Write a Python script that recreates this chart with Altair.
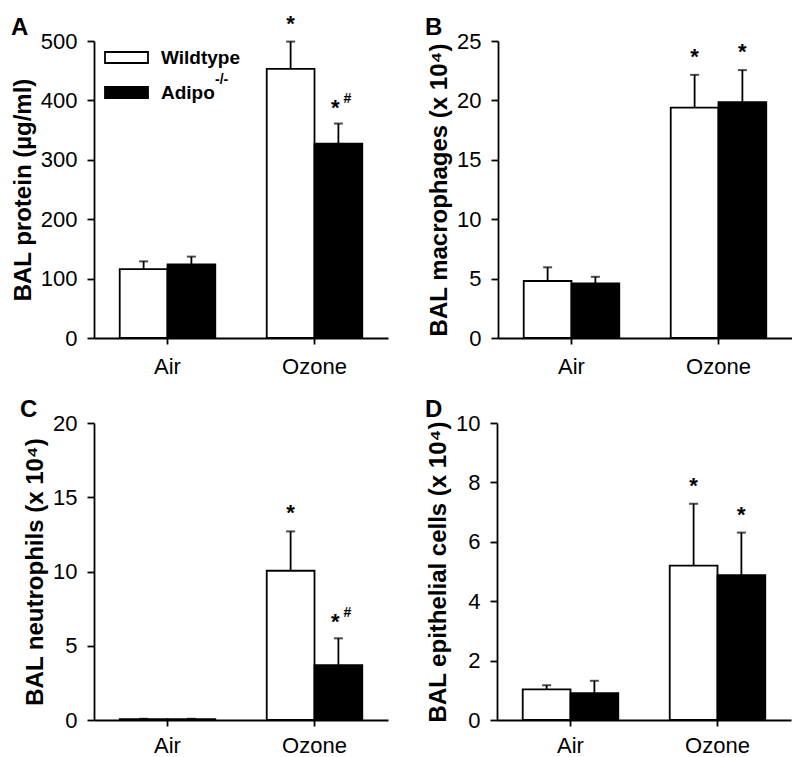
import altair as alt
import pandas as pd

FONT = "Liberation Sans"

conditions = ["Air", "Ozone"]
genotypes = ["Wildtype", "Adipo"]

# Panel A: BAL protein (ug/ml)
protein_wt = [116, 453]
protein_wt_upper = [129, 499]
protein_ko = [124, 327]
protein_ko_upper = [137, 361]
protein_stars_wt = ["", "*"]
protein_stars_ko = ["", "*#"]

# Panel B: macrophages (x 10^4)
macro_wt = [4.8, 19.4]
macro_wt_upper = [5.95, 22.15]
macro_ko = [4.6, 19.85]
macro_ko_upper = [5.15, 22.55]
macro_stars_wt = ["", "*"]
macro_stars_ko = ["", "*"]

# Panel C: neutrophils (x 10^4)
neut_wt = [0.05, 10.05]
neut_wt_upper = [0.08, 12.7]
neut_ko = [0.05, 3.7]
neut_ko_upper = [0.08, 5.5]
neut_stars_wt = ["", "*"]
neut_stars_ko = ["", "*#"]

# Panel D: epithelial cells (x 10^4)
epi_wt = [1.03, 5.2]
epi_wt_upper = [1.17, 7.28]
epi_ko = [0.9, 4.88]
epi_ko_upper = [1.32, 6.31]
epi_stars_wt = ["", "*"]
epi_stars_ko = ["", "*"]


def make_df(wt, wt_up, ko, ko_up, st_wt, st_ko):
    rows = []
    for i, c in enumerate(conditions):
        rows.append({"cond": c, "geno": "Wildtype", "value": wt[i], "upper": wt_up[i], "star": st_wt[i]})
        rows.append({"cond": c, "geno": "Adipo", "value": ko[i], "upper": ko_up[i], "star": st_ko[i]})
    return pd.DataFrame(rows)


def panel(df, ymax, step, title, letter, letter_x, xlabel_pad, legend=False):
    base = alt.Chart(df)
    x = alt.X("cond:N", scale=alt.Scale(domain=conditions, paddingInner=0.35, paddingOuter=0.175),
              axis=alt.Axis(title=None, labelAngle=0, labelPadding=xlabel_pad))
    xo = alt.XOffset("geno:N", scale=alt.Scale(domain=genotypes, paddingInner=0, paddingOuter=0))
    yscale = alt.Scale(domain=[0, ymax], nice=False)
    yaxis = alt.Axis(values=list(range(0, ymax + 1, step)), title=title)
    if legend:
        leg = alt.Legend(orient="none", legendX=10, legendY=-6, title=None,
                         symbolType="M-1,-0.256H1V0.256H-1Z", symbolSize=1849,
                         symbolStrokeColor="black", symbolStrokeWidth=1.8,
                         labelFont=FONT, labelFontSize=19, labelFontWeight="bold",
                         labelColor="black", labelOffset=12,
                         labelExpr="datum.label")
    else:
        leg = None
    fill = alt.Fill("geno:N", scale=alt.Scale(domain=genotypes, range=["white", "black"]), legend=leg)

    yv = alt.Y("value:Q", scale=yscale, axis=yaxis)
    yu = alt.Y("upper:Q", scale=yscale, axis=yaxis)
    bars = base.mark_bar(stroke="black", strokeWidth=1.8).encode(x=x, xOffset=xo, y=yv, fill=fill)
    rule = base.mark_rule(color="black", strokeWidth=1.8).encode(x=x, xOffset=xo, y=yv, y2="upper:Q")
    cap = base.mark_tick(color="black", thickness=2, size=9).encode(x=x, xOffset=xo, y=yu)
    star_plain = base.transform_filter("datum.star == '*'").mark_text(
        text="*", font=FONT, fontSize=22, fontWeight="bold", baseline="alphabetic", dy=-11, color="black"
    ).encode(x=x, xOffset=xo, y=yu)
    star_hash = base.transform_filter("datum.star == '*#'").mark_text(
        text="*", font=FONT, fontSize=22, fontWeight="bold", baseline="alphabetic", dy=-9, dx=-3, color="black"
    ).encode(x=x, xOffset=xo, y=yu)
    hash_mark = base.transform_filter("datum.star == '*#'").mark_text(
        text="#", font=FONT, fontSize=14, fontWeight="bold", baseline="alphabetic", dy=-21, dx=5,
        align="left", color="black"
    ).encode(x=x, xOffset=xo, y=yu)
    letter_layer = alt.Chart(pd.DataFrame({"letter": [letter]})).mark_text(
        font=FONT, fontSize=24, fontWeight="bold", align="left", baseline="top", color="black"
    ).encode(text="letter:N", x=alt.value(letter_x), y=alt.value(-25))

    layers = [bars, rule, cap, star_plain, star_hash, hash_mark, letter_layer]
    if legend:
        sup = alt.Chart(pd.DataFrame({"s": ["-/-"]})).mark_text(
            font=FONT, fontSize=14, fontWeight="bold", align="left", baseline="middle", color="black"
        ).encode(text="s:N", x=alt.value(121), y=alt.value(39))
        layers.append(sup)
    return alt.layer(*layers).properties(width=294, height=297)


pA = panel(make_df(protein_wt, protein_wt_upper, protein_ko, protein_ko_upper, protein_stars_wt, protein_stars_ko),
           500, 100, "BAL protein (µg/ml)", "A", -83, 12, legend=True)
pB = panel(make_df(macro_wt, macro_wt_upper, macro_ko, macro_ko_upper, macro_stars_wt, macro_stars_ko),
           25, 5, "BAL macrophages (x 10⁴)", "B", -73, 12)
pC = panel(make_df(neut_wt, neut_wt_upper, neut_ko, neut_ko_upper, neut_stars_wt, neut_stars_ko),
           20, 5, "BAL neutrophils (x 10⁴)", "C", -74, 9)
pD = panel(make_df(epi_wt, epi_wt_upper, epi_ko, epi_ko_upper, epi_stars_wt, epi_stars_ko),
           10, 2, "BAL epithelial cells (x 10⁴)", "D", -72, 9)

row1 = alt.hconcat(pA, pB, spacing=37).resolve_scale(fill="independent")
row2 = alt.hconcat(pC, pD, spacing=37).resolve_scale(fill="independent")

chart = alt.vconcat(row1, row2, spacing=21).resolve_scale(fill="independent").properties(
    padding={"left": 3, "top": 4, "right": 0, "bottom": 0}
).configure_axis(
    domainColor="black", domainWidth=1.8, tickColor="black", tickWidth=1.8,
    labelColor="black", titleColor="black", labelFont=FONT, titleFont=FONT,
    labelFontSize=22, titleFontSize=24, titleFontWeight="bold", grid=False
).configure_axisY(
    tickSize=7, labelPadding=10, titlePadding=5
).configure_axisX(
    tickSize=6
).configure_view(stroke=None)

chart.save("out.html", embed_options={"renderer": "svg", "actions": False})
